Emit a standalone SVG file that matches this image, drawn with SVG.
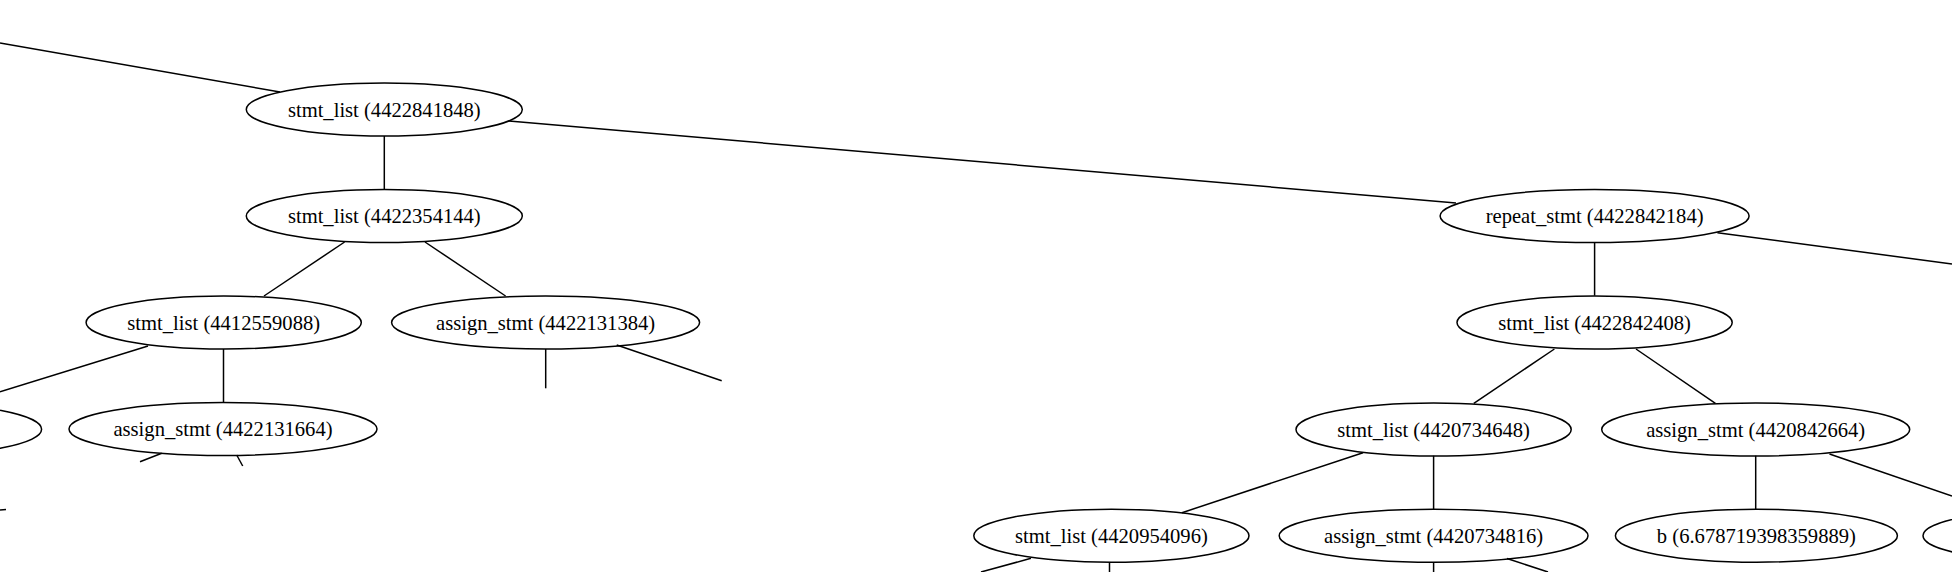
<svg xmlns="http://www.w3.org/2000/svg" width="1952" height="572" viewBox="0 0 1952 572">
<style>
.n ellipse{fill:none;stroke:#000;stroke-width:1.5}
.n text{font-family:"Liberation Serif","Times New Roman",serif;font-size:20.6px;fill:#000;text-anchor:middle}
#edges line{stroke:#000;stroke-width:1.5;fill:none}
</style>
<rect width="1952" height="572" fill="#fff"/>
<g id="edges">
<line x1="0" y1="43" x2="280" y2="92"/>
<line x1="384.3" y1="136" x2="384.3" y2="189.5"/>
<line x1="509" y1="121" x2="1456" y2="203"/>
<line x1="344.6" y1="242" x2="264" y2="296"/>
<line x1="425" y1="242" x2="505.6" y2="296"/>
<line x1="148" y1="346" x2="0" y2="391.7"/>
<line x1="223.5" y1="349" x2="223.5" y2="402.7"/>
<line x1="545.7" y1="349" x2="545.7" y2="388.3"/>
<line x1="616.7" y1="345" x2="721.7" y2="380.7"/>
<line x1="161.7" y1="453.3" x2="140" y2="461.7"/>
<line x1="236.7" y1="455" x2="242.7" y2="466"/>
<line x1="0" y1="510" x2="6" y2="509.5"/>
<line x1="1594.6" y1="242.5" x2="1594.6" y2="295.7"/>
<line x1="1717.4" y1="232.7" x2="1952" y2="264"/>
<line x1="1554.4" y1="349" x2="1473.8" y2="403.3"/>
<line x1="1636" y1="349" x2="1715.4" y2="403.3"/>
<line x1="1363" y1="452.7" x2="1182" y2="512.7"/>
<line x1="1433.6" y1="455.7" x2="1433.6" y2="509"/>
<line x1="1755.7" y1="455.7" x2="1755.7" y2="509"/>
<line x1="1829.5" y1="454" x2="1952" y2="496"/>
<line x1="1031" y1="558.3" x2="981" y2="572"/>
<line x1="1109.5" y1="562.3" x2="1109.5" y2="572"/>
<line x1="1433.6" y1="562.3" x2="1433.6" y2="572"/>
<line x1="1507" y1="558.5" x2="1548" y2="572"/>
</g>
<g id="n4422841848" class="n"><ellipse cx="384.3" cy="109.5" rx="138" ry="26.5"/><text x="384.3" y="116.5">stmt_list (4422841848)</text></g>
<g id="n4422354144" class="n"><ellipse cx="384.3" cy="216" rx="138" ry="26.5"/><text x="384.3" y="223">stmt_list (4422354144)</text></g>
<g id="n4412559088" class="n"><ellipse cx="223.7" cy="322.5" rx="137.6" ry="26.5"/><text x="223.7" y="329.5">stmt_list (4412559088)</text></g>
<g id="n4422131384" class="n"><ellipse cx="545.6" cy="322.5" rx="154" ry="26.5"/><text x="545.6" y="329.5">assign_stmt (4422131384)</text></g>
<g id="nLeftPartial" class="n"><ellipse cx="-96" cy="429.3" rx="137.6" ry="26.5"/></g>
<g id="n4422131664" class="n"><ellipse cx="223" cy="429" rx="154" ry="26.5"/><text x="223" y="436">assign_stmt (4422131664)</text></g>
<g id="n4422842184" class="n"><ellipse cx="1594.6" cy="216" rx="154.5" ry="26.5"/><text x="1594.6" y="223">repeat_stmt (4422842184)</text></g>
<g id="n4422842408" class="n"><ellipse cx="1594.6" cy="322.5" rx="137.6" ry="26.5"/><text x="1594.6" y="329.5">stmt_list (4422842408)</text></g>
<g id="n4420734648" class="n"><ellipse cx="1433.6" cy="429.5" rx="137.6" ry="26.5"/><text x="1433.6" y="436.5">stmt_list (4420734648)</text></g>
<g id="n4420842664" class="n"><ellipse cx="1755.7" cy="429.5" rx="154" ry="26.5"/><text x="1755.7" y="436.5">assign_stmt (4420842664)</text></g>
<g id="n4420954096" class="n"><ellipse cx="1111.4" cy="535.7" rx="137.6" ry="26.5"/><text x="1111.4" y="542.7">stmt_list (4420954096)</text></g>
<g id="n4420734816" class="n"><ellipse cx="1433.6" cy="535.7" rx="154.4" ry="26.5"/><text x="1433.6" y="542.7">assign_stmt (4420734816)</text></g>
<g id="nb" class="n"><ellipse cx="1756.4" cy="535.7" rx="141" ry="26.5"/><text x="1756.4" y="542.7">b (6.678719398359889)</text></g>
<g id="nRightPartial" class="n"><ellipse cx="2063" cy="535.7" rx="140" ry="26.5"/></g>
</svg>
